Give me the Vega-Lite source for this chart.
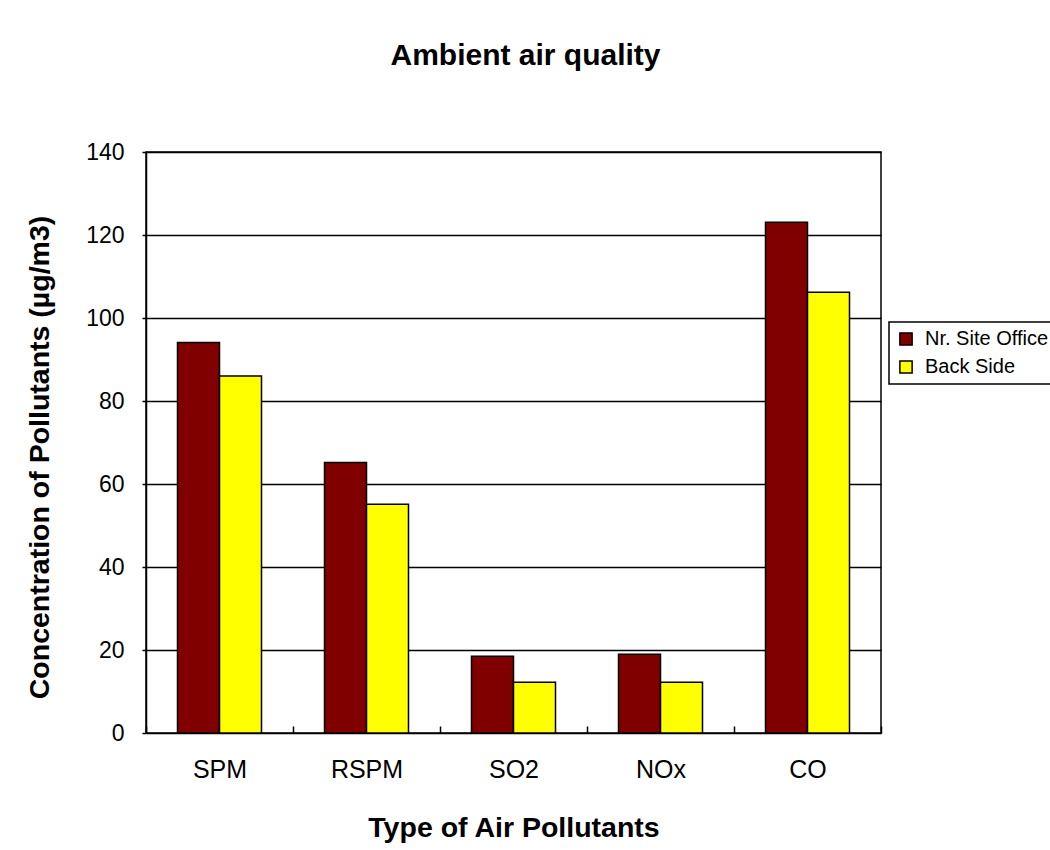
{
  "$schema": "https://vega.github.io/schema/vega-lite/v6.json",
  "width": 735,
  "height": 581,
  "autosize": {"type": "none"},
  "padding": {"left": 146, "top": 152, "right": 169, "bottom": 117},
  "background": "white",
  "title": {
    "text": "Ambient air quality",
    "font": "Liberation Sans",
    "fontSize": 30,
    "fontWeight": "bold",
    "color": "black",
    "anchor": "middle",
    "dx": 12,
    "offset": 70
  },
  "data": {
    "values": [
      {"pollutant": "SPM", "site": "Nr. Site Office", "value": 94.1},
      {"pollutant": "SPM", "site": "Back Side", "value": 86},
      {"pollutant": "RSPM", "site": "Nr. Site Office", "value": 65.2},
      {"pollutant": "RSPM", "site": "Back Side", "value": 55.1},
      {"pollutant": "SO2", "site": "Nr. Site Office", "value": 18.5},
      {"pollutant": "SO2", "site": "Back Side", "value": 12.2},
      {"pollutant": "NOx", "site": "Nr. Site Office", "value": 19},
      {"pollutant": "NOx", "site": "Back Side", "value": 12.2},
      {"pollutant": "CO", "site": "Nr. Site Office", "value": 123.1},
      {"pollutant": "CO", "site": "Back Side", "value": 106.2}
    ]
  },
  "mark": {"type": "bar", "stroke": "black", "strokeWidth": 1.5},
  "encoding": {
    "x": {
      "field": "pollutant",
      "type": "nominal",
      "sort": ["SPM", "RSPM", "SO2", "NOx", "CO"],
      "scale": {"paddingInner": 0, "paddingOuter": 0},
      "axis": {
        "title": "Type of Air Pollutants",
        "titleFont": "Liberation Sans",
        "titleFontSize": 28.5,
        "titleFontWeight": "bold",
        "titleColor": "black",
        "titlePadding": 31,
        "labelFont": "Liberation Sans",
        "labelFontSize": 25,
        "labelColor": "black",
        "labelAngle": 0,
        "labelPadding": 24,
        "offset": -7,
        "domain": false,
        "ticks": true,
        "tickBand": "extent",
        "tickSize": 7,
        "tickColor": "black",
        "tickWidth": 1.5,
        "grid": false
      }
    },
    "xOffset": {
      "field": "site",
      "type": "nominal",
      "sort": ["Nr. Site Office", "Back Side"],
      "scale": {"paddingInner": 0, "paddingOuter": 0.75}
    },
    "y": {
      "field": "value",
      "type": "quantitative",
      "scale": {"domain": [0, 140], "nice": false},
      "axis": {
        "title": "Concentration of Pollutants (µg/m3)",
        "titleFont": "Liberation Sans",
        "titleFontSize": 28.5,
        "titleFontWeight": "bold",
        "titleColor": "black",
        "titleY": 305,
        "titlePadding": 31,
        "values": [0, 20, 40, 60, 80, 100, 120, 140],
        "labelFont": "Liberation Sans",
        "labelFontSize": 23,
        "labelColor": "black",
        "labelPadding": 18,
        "tickSize": 4,
        "tickColor": "black",
        "tickWidth": 1.5,
        "domainColor": "black",
        "domainWidth": 1.5,
        "grid": true,
        "gridColor": "black",
        "gridWidth": 1.5
      }
    },
    "fill": {
      "field": "site",
      "type": "nominal",
      "sort": ["Nr. Site Office", "Back Side"],
      "scale": {"domain": ["Nr. Site Office", "Back Side"], "range": ["#800000", "#FFFF00"]},
      "legend": {
        "title": null,
        "orient": "none",
        "legendX": 743,
        "legendY": 170,
        "padding": 7,
        "strokeColor": "black",
        "fillColor": "white",
        "symbolType": "square",
        "symbolSize": 150,
        "symbolStrokeColor": "black",
        "symbolStrokeWidth": 1.5,
        "labelFont": "Liberation Sans",
        "labelFontSize": 20,
        "labelColor": "black",
        "labelOffset": 9,
        "rowPadding": 8,
        "labelLimit": 400
      }
    }
  },
  "config": {
    "view": {"stroke": "black", "strokeWidth": 1.5},
    "legend": {"strokeWidth": 1.5}
  }
}
